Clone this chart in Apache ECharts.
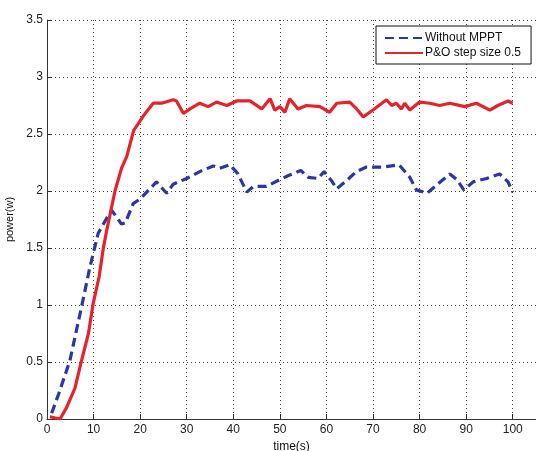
<!DOCTYPE html>
<html>
<head>
<meta charset="utf-8">
<script src="https://cdn.jsdelivr.net/npm/echarts@6/dist/echarts.min.js"></script>
<style>
  html, body { margin: 0; padding: 0; background: #fff; }
  #chart { width: 536px; height: 451px; }
</style>
</head>
<body>
<div id="chart"></div>
<script>
// 曲线数据（从图上读出的时间/功率）
const tWithout = [1, 2.5, 4.9, 7.4, 9.2, 11, 12.8, 13.9, 14.6, 16, 16.8, 17.8, 18.5, 20, 22.1, 23.5, 25.7, 27.1, 30, 32.8, 35.7, 37.1, 39.3, 41, 42.9, 44.3, 47.1, 50, 52.1, 54.5, 56.1, 58.2, 59.5, 61.1, 62.2, 64.3, 66.4, 68.6, 72.2, 75.6, 77.9, 79.3, 81.6, 83.6, 86.5, 88, 89.5, 91.5, 94.4, 97.2, 99, 100];
const pWithout = [0.05, 0.22, 0.51, 0.98, 1.33, 1.63, 1.76, 1.83, 1.79, 1.71, 1.72, 1.82, 1.89, 1.93, 2.02, 2.08, 1.98, 2.06, 2.11, 2.17, 2.22, 2.20, 2.23, 2.15, 1.99, 2.04, 2.04, 2.10, 2.14, 2.18, 2.12, 2.11, 2.17, 2.09, 2.02, 2.09, 2.17, 2.21, 2.21, 2.23, 2.12, 2.01, 1.98, 2.05, 2.15, 2.10, 2.01, 2.08, 2.11, 2.15, 2.08, 1.99];

const tPO = [0.6, 2.8, 4.2, 6, 7.4, 8.9, 9.9, 11.2, 12.1, 12.8, 14.6, 16, 17.1, 18.6, 20.7, 22.8, 24.6, 27.1, 27.8, 29.3, 30.7, 32.8, 34.6, 36.4, 38.6, 40.7, 43.6, 46.1, 47.9, 48.9, 50, 51.1, 52.1, 53.9, 55.7, 58.6, 60.7, 62.2, 65, 66.5, 67.9, 70, 72.9, 74, 75, 76.1, 76.8, 77.9, 80, 82.2, 84.3, 86.5, 89.7, 92.2, 95.1, 96.8, 99, 100];
const pPO = [0.02, 0, 0.1, 0.27, 0.51, 0.75, 1.01, 1.25, 1.5, 1.65, 2.0, 2.2, 2.3, 2.53, 2.66, 2.77, 2.77, 2.80, 2.79, 2.68, 2.72, 2.77, 2.74, 2.78, 2.75, 2.79, 2.79, 2.72, 2.81, 2.71, 2.74, 2.69, 2.81, 2.72, 2.75, 2.74, 2.69, 2.77, 2.78, 2.72, 2.65, 2.71, 2.80, 2.75, 2.77, 2.72, 2.77, 2.71, 2.78, 2.77, 2.75, 2.77, 2.74, 2.77, 2.71, 2.75, 2.79, 2.77];

const seriesNames = ['Without MPPT', 'P&O step size 0.5'];

const pairs = (ts, ps) => ts.map((t, i) => [t, ps[i]]);

const chart = echarts.init(document.getElementById('chart'), null, { renderer: 'canvas' });

const font = 'Liberation Sans, Arial, sans-serif';
const gridLine = { show: true, lineStyle: { color: '#444', width: 1, type: [1, 3] } };

chart.setOption({
    animation: false,
    backgroundColor: '#fff',
    textStyle: { fontFamily: font },
    grid: { left: 47, right: 0, top: 20, bottom: 32, containLabel: false, outerBoundsMode: 'none' },
    legend: {
        orient: 'vertical',
        left: 376, top: 26,
        padding: [6, 10, 5, 8],
        itemGap: 3,
        itemWidth: 38, itemHeight: 13,
        borderColor: '#111', borderWidth: 1,
        backgroundColor: '#fff',
        itemStyle: { opacity: 0 },
        textStyle: { fontFamily: font, fontSize: 12, color: '#111', padding: [0, 0, 0, -3] },
        data: seriesNames
    },
    xAxis: {
        type: 'value', min: 0, max: 105, interval: 10,
        name: 'time(s)', nameLocation: 'middle', nameGap: 19,
        nameTextStyle: { fontFamily: font, fontSize: 12, color: '#111' },
        axisLine: { show: true, onZero: false, lineStyle: { color: '#333', width: 1 } },
        axisTick: { show: true, inside: true, length: 5, lineStyle: { color: '#333' } },
        axisLabel: { fontFamily: font, fontSize: 12, color: '#222', margin: 5,
            formatter: v => (v % 10 === 0 ? String(v) : '') },
        splitLine: gridLine
    },
    yAxis: {
        type: 'value', min: 0, max: 3.5, interval: 0.5,
        name: 'power(w)', nameLocation: 'middle', nameGap: 30, nameRotate: 90,
        nameTextStyle: { fontFamily: font, fontSize: 11, color: '#111' },
        axisLine: { show: true, lineStyle: { color: '#333', width: 1 } },
        axisTick: { show: true, inside: true, length: 5, lineStyle: { color: '#333' } },
        axisLabel: { fontFamily: font, fontSize: 12, color: '#222', margin: 4 },
        splitLine: gridLine
    },
    series: [
        {
            name: seriesNames[0], type: 'line', data: pairs(tWithout, pWithout),
            symbol: 'none', smooth: false, z: 3,
            lineStyle: { color: '#2b36a8', width: 3.2, type: [9, 5] },
            itemStyle: { color: '#2b36a8' }
        },
        {
            name: seriesNames[1], type: 'line', data: pairs(tPO, pPO),
            symbol: 'none', smooth: false, z: 4,
            lineStyle: { color: '#e8222a', width: 3.2 },
            itemStyle: { color: '#e8222a' }
        }
    ]
});
</script>
</body>
</html>
